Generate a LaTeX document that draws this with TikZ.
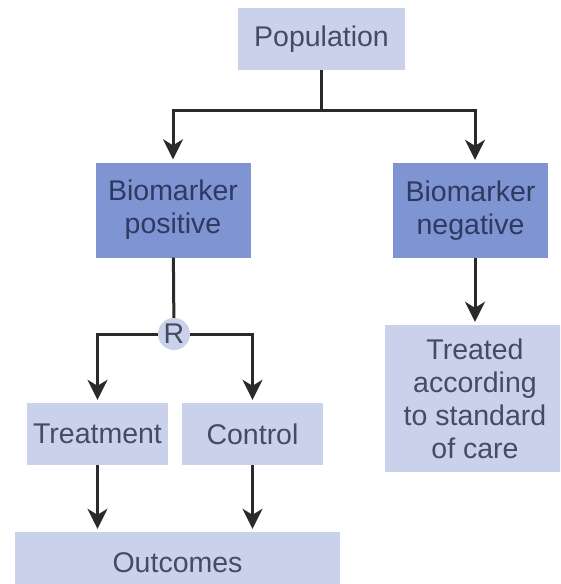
\documentclass[tikz,border=0pt]{standalone}
\usepackage{fontspec}
\setmainfont{Liberation Sans}
\usetikzlibrary{positioning,arrows.meta}
\definecolor{boxlight}{HTML}{C9D1EB}
\definecolor{boxdark}{HTML}{7F94D2}
\definecolor{txtgrey}{HTML}{454B63}
\definecolor{txtnavy}{HTML}{2F3A60}
\definecolor{linegrey}{HTML}{2A2A2A}

\begin{document}
\begin{tikzpicture}[x=1pt, y=-1pt,
    box/.style={rectangle, fill=boxlight, inner sep=0pt, align=center,
                text=txtgrey, font=\fontsize{28.5}{33}\selectfont},
    darkbox/.style={box, fill=boxdark, text=txtnavy,
                    minimum width=155pt, minimum height=95pt},
    link/.style={line width=3pt, draw=linegrey},
    arr/.style={link, -{Stealth[length=20pt,width=20pt,inset=6pt]}, shorten >=3pt}]
  \clip (0,0) rectangle (560,584);
  \node[box, minimum width=167pt, minimum height=62pt] (pop) at (321.5,39) {Population};
  \node[darkbox] (bpos) at (173,210) {Biomarker\\positive};
  \node[darkbox] (bneg) at (470.5,210.5) {Biomarker\\negative};
  \node[box, circle, minimum size=32pt] (rand) at (174,334) {R};
  \node[box, minimum width=141pt, minimum height=62pt] (treat) at (97.5,434) {Treatment};
  \node[box, minimum width=141pt, minimum height=62pt] (ctrl) at (252.5,434) {Control};
  \node[box, minimum width=325pt, minimum height=62pt] (outc) at (177.5,563) {Outcomes};
  \node[box, minimum width=180pt, minimum height=147pt] (care) at (475,398.5)
    {Treated\\according\\to standard\\of care};
  \coordinate (split) at (321.5,110);
  \draw[link] (pop) -- (split);
  \draw[arr] (split) -| (bpos.north);
  \draw[arr] (split) -| (care.north |- bneg.north);
  \draw[link] (bpos) -- (rand);
  \draw[arr] (rand.west) -| (treat.north);
  \draw[arr] (rand.east) -| (ctrl.north);
  \draw[arr] (care.north |- bneg.south) -- (care.north);
  \draw[arr] (treat.south) -- (treat.south |- outc.north);
  \draw[arr] (ctrl.south) -- (ctrl.south |- outc.north);
\end{tikzpicture}
\end{document}
